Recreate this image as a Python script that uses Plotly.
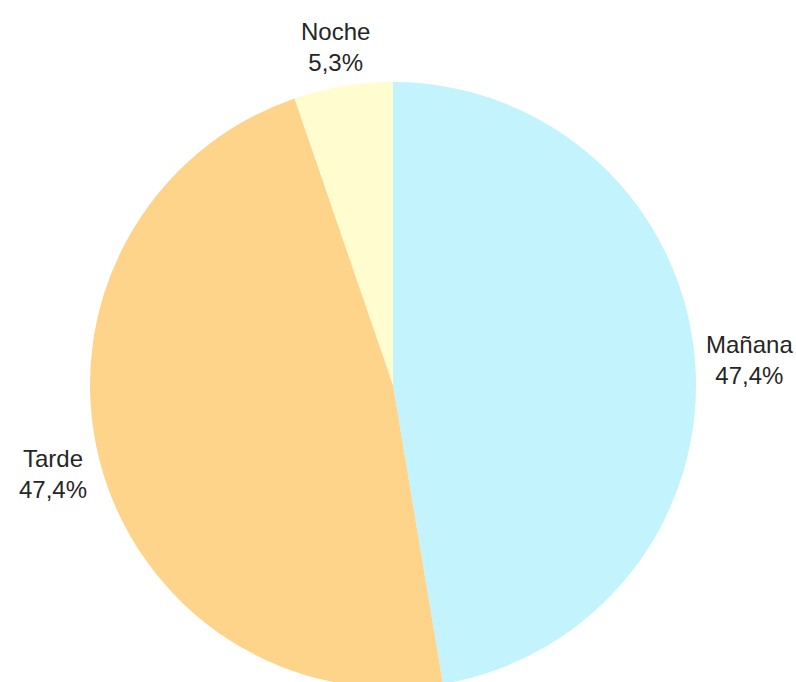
import math
import plotly.graph_objects as go

# Data
categories = ["Mañana", "Tarde", "Noche"]
values = [9, 9, 1]
colors = ["#c3f3fd", "#fed38a", "#fffdd0"]

W, H = 796, 688
ML, MR, MT, MB = 90, 100, 82, 0
FONT_SIZE = 24
TEXT_COLOR = "#262626"

fig = go.Figure(go.Pie(
    labels=categories,
    values=values,
    marker=dict(colors=colors, line=dict(width=0)),
    sort=False,
    direction="clockwise",
    rotation=0,
    textinfo="none",
    hoverinfo="label+percent",
    showlegend=False,
))

# Label positions derived from the slice angles
pw, ph = W - ML - MR, H - MT - MB
r = min(pw, ph) / 2
cx, cy = ML + pw / 2, MT + ph / 2
total = sum(values)
cum = 0
annotations = []
for lab, v in zip(categories, values):
    mid = (cum + v / 2) / total * 2 * math.pi
    cum += v
    pct = f"{v / total * 100:.1f}%".replace(".", ",")
    s, c = math.sin(mid), math.cos(mid)
    gap = 12
    ax = cx + (r + gap) * s
    ay = cy - (r + gap) * c
    maxlen = max(len(lab), len(pct))
    hw = 0.3 * FONT_SIZE * maxlen
    hh = 32
    tx = ax + hw * s
    ty = ay - hh * c + 4
    annotations.append(dict(
        x=(tx - ML) / pw, y=1 - (ty - MT) / ph,
        xref="paper", yref="paper",
        text=f"{lab}<br>{pct}", showarrow=False,
        xanchor="center", yanchor="middle",
        font=dict(size=FONT_SIZE, color=TEXT_COLOR, family="Liberation Sans, Arial, sans-serif"),
    ))

fig.update_layout(
    width=W, height=H,
    margin=dict(l=ML, r=MR, t=MT, b=MB, pad=0),
    paper_bgcolor="white",
    plot_bgcolor="white",
    annotations=annotations,
    font=dict(family="Liberation Sans, Arial, sans-serif", color=TEXT_COLOR),
)

fig.write_html(
    "out.html",
    config={"displayModeBar": False},
    post_script="document.body.style.margin='0';document.body.style.overflow='hidden';",
)
